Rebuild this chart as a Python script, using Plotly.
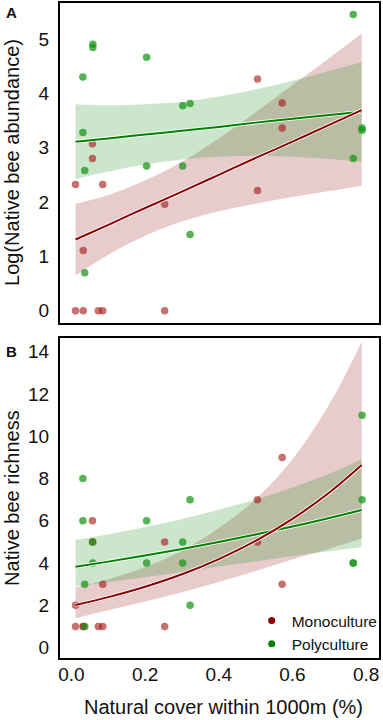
import plotly.graph_objects as go

# ---------------- data ----------------
# Panel A: log(native bee abundance) vs natural cover
mono_cover_a = [0.011, 0.011, 0.032, 0.032, 0.057, 0.057, 0.073, 0.085, 0.085,
                0.253, 0.253, 0.505, 0.505, 0.572, 0.572]
mono_abund = [2.32, 0.0, 1.11, 0.0, 3.07, 2.80, 0.0, 2.32, 0.0,
              1.96, 0.0, 4.26, 2.21, 3.82, 3.36]
poly_cover_a = [0.031, 0.031, 0.036, 0.036, 0.058, 0.058, 0.204, 0.204,
                0.302, 0.302, 0.322, 0.322, 0.765, 0.765, 0.789, 0.789]
poly_abund = [4.30, 3.28, 2.58, 0.70, 4.90, 4.84, 4.66, 2.66,
              3.77, 2.66, 3.81, 1.40, 5.45, 2.80, 3.36, 3.32]

# Panel B: native bee richness vs natural cover
mono_cover_b = [0.011, 0.011, 0.032, 0.032, 0.057, 0.057, 0.073, 0.085, 0.085,
                0.253, 0.253, 0.505, 0.505, 0.572, 0.572]
mono_rich = [2, 1, 1, 1, 6, 5, 1, 3, 1, 5, 1, 7, 5, 9, 3]
poly_cover_b = [0.031, 0.031, 0.036, 0.036, 0.058, 0.058, 0.204, 0.204,
                0.302, 0.302, 0.322, 0.322, 0.765, 0.765, 0.789, 0.789]
poly_rich = [8, 6, 3, 1, 5, 4, 6, 4, 5, 4, 7, 2, 4, 4, 11, 7]

# fitted lines and confidence bands (read at these cover values)
fit_cover = [0.011, 0.1, 0.2, 0.3, 0.4, 0.5, 0.6, 0.7, 0.788]
mono_abund_fit = [1.31, 1.58, 1.89, 2.19, 2.50, 2.81, 3.11, 3.42, 3.69]
mono_abund_lo = [0.65, 1.03, 1.38, 1.64, 1.83, 1.97, 2.09, 2.20, 2.30]
mono_abund_hi = [1.97, 2.13, 2.40, 2.74, 3.17, 3.65, 4.15, 4.65, 5.10]
poly_abund_fit = [3.11, 3.17, 3.24, 3.31, 3.38, 3.46, 3.53, 3.60, 3.66]
poly_abund_lo = [2.42, 2.56, 2.69, 2.78, 2.83, 2.85, 2.83, 2.79, 2.74]
poly_abund_hi = [3.80, 3.78, 3.80, 3.84, 3.94, 4.07, 4.23, 4.41, 4.57]
mono_rich_fit = [2.02, 2.39, 2.88, 3.47, 4.19, 5.05, 6.09, 7.34, 8.64]
mono_rich_lo = [1.39, 1.77, 2.18, 2.62, 3.10, 3.63, 4.17, 4.68, 5.16]
mono_rich_hi = [2.84, 3.23, 3.81, 4.59, 5.66, 7.02, 8.91, 11.51, 14.47]
poly_rich_fit = [3.83, 4.07, 4.36, 4.67, 5.00, 5.35, 5.73, 6.13, 6.51]
poly_rich_lo = [2.89, 3.09, 3.33, 3.58, 3.84, 4.08, 4.33, 4.56, 4.75]
poly_rich_hi = [5.09, 5.36, 5.71, 6.09, 6.52, 7.01, 7.58, 8.23, 8.93]

abund_ticks = [0, 1, 2, 3, 4, 5]
rich_ticks = [0, 2, 4, 6, 8, 10, 12, 14]
cover_ticks = [0.0, 0.2, 0.4, 0.6, 0.8]
cover_tick_labels = ["0.0", "0.2", "0.4", "0.6", "0.8"]

series_names = ["Monoculture", "Polyculture"]

# ---------------- styling ----------------
RED_LINE = "#8b0000"
GREEN_LINE = "#008000"
RED_FILL = "rgba(139,0,0,0.2)"
GREEN_FILL = "rgba(0,128,0,0.2)"
RED_PT = "rgba(165,25,25,0.62)"
GREEN_PT = "rgba(20,150,20,0.72)"
FONT = "Liberation Sans, Arial, sans-serif"

fig = go.Figure()


def add_band(x, lo, hi, fill, xa, ya):
    fig.add_trace(go.Scatter(x=x, y=lo, mode="lines", line=dict(width=0, shape="spline"),
                             showlegend=False, hoverinfo="skip", xaxis=xa, yaxis=ya))
    fig.add_trace(go.Scatter(x=x, y=hi, mode="lines", line=dict(width=0, shape="spline"),
                             fill="tonexty", fillcolor=fill, showlegend=False,
                             hoverinfo="skip", xaxis=xa, yaxis=ya))


def add_line(x, y, color, xa, ya):
    fig.add_trace(go.Scatter(x=x, y=y, mode="lines",
                             line=dict(color="white", width=3.6, shape="spline"),
                             showlegend=False, hoverinfo="skip", xaxis=xa, yaxis=ya))
    fig.add_trace(go.Scatter(x=x, y=y, mode="lines",
                             line=dict(color=color, width=2.0, shape="spline"),
                             showlegend=False, xaxis=xa, yaxis=ya))


def add_points(x, y, color, xa, ya):
    fig.add_trace(go.Scatter(x=x, y=y, mode="markers",
                             marker=dict(color=color, size=7.5, line=dict(width=0)),
                             showlegend=False, xaxis=xa, yaxis=ya))


# Panel A
add_band(fit_cover, mono_abund_lo, mono_abund_hi, RED_FILL, "x", "y")
add_band(fit_cover, poly_abund_lo, poly_abund_hi, GREEN_FILL, "x", "y")
add_points(mono_cover_a, mono_abund, RED_PT, "x", "y")
add_points(poly_cover_a, poly_abund, GREEN_PT, "x", "y")
add_line(fit_cover, poly_abund_fit, GREEN_LINE, "x", "y")
add_line(fit_cover, mono_abund_fit, RED_LINE, "x", "y")

# Panel B
add_band(fit_cover, mono_rich_lo, mono_rich_hi, RED_FILL, "x2", "y2")
add_band(fit_cover, poly_rich_lo, poly_rich_hi, GREEN_FILL, "x2", "y2")
add_points(mono_cover_b, mono_rich, RED_PT, "x2", "y2")
add_points(poly_cover_b, poly_rich, GREEN_PT, "x2", "y2")
add_line(fit_cover, poly_rich_fit, GREEN_LINE, "x2", "y2")
add_line(fit_cover, mono_rich_fit, RED_LINE, "x2", "y2")

# legend entries
for name, col in zip(series_names, [RED_LINE, GREEN_LINE]):
    fig.add_trace(go.Scatter(x=[None], y=[None], mode="markers", name=name,
                             marker=dict(color=col, size=7), xaxis="x2", yaxis="y2"))

W, H = 383, 720
x_dom = [60 / W, 381 / W]
axis_common = dict(showgrid=False, zeroline=False, showline=True, mirror=True,
                   linecolor="black", linewidth=1.6, ticks="",
                   tickfont=dict(family=FONT, size=19, color="#111"))

fig.update_layout(
    width=W, height=H, autosize=False,
    margin=dict(l=0, r=0, t=0, b=0),
    paper_bgcolor="white", plot_bgcolor="white",
    font=dict(family=FONT, color="#111"),
    xaxis=dict(domain=x_dom, range=[-0.032, 0.835], anchor="y", tickvals=cover_ticks,
               showticklabels=False, **axis_common),
    yaxis=dict(domain=[1 - 322.7 / H, 1 - 3 / H], range=[-0.22, 5.66], anchor="x",
               tickvals=abund_ticks, ticklabelstandoff=5, **axis_common),
    xaxis2=dict(domain=x_dom, range=[-0.032, 0.835], anchor="y2", tickvals=cover_ticks,
                ticktext=cover_tick_labels, ticklabelstandoff=-2, **axis_common),
    yaxis2=dict(domain=[1 - 658 / H, 1 - 338 / H], range=[-0.49, 14.65], anchor="x2",
                tickvals=rich_ticks, ticklabelstandoff=5, **axis_common),
    showlegend=True,
    legend=dict(x=253 / W, y=1 - 604 / H, xanchor="left", yanchor="top",
                traceorder="normal",
                bgcolor="rgba(0,0,0,0)", font=dict(family=FONT, size=15.5, color="#111"),
                itemwidth=30, tracegroupgap=0),
    annotations=[
        dict(text="Log(Native bee abundance)", x=12 / W, y=1 - 162 / H, xref="paper",
             yref="paper", textangle=-90, showarrow=False, xanchor="center",
             yanchor="middle", font=dict(family=FONT, size=20, color="#111")),
        dict(text="Native bee richness", x=12 / W, y=1 - 498 / H, xref="paper",
             yref="paper", textangle=-90, showarrow=False, xanchor="center",
             yanchor="middle", font=dict(family=FONT, size=20, color="#111")),
        dict(text="Natural cover within 1000m (%)", x=225 / W, y=1 - 707 / H,
             xref="paper", yref="paper", showarrow=False, xanchor="center",
             yanchor="middle", font=dict(family=FONT, size=20, color="#111")),
        dict(text="<b>A</b>", x=12 / W, y=1 - 12 / H, xref="paper", yref="paper",
             showarrow=False, xanchor="center", yanchor="middle",
             font=dict(family=FONT, size=15, color="#111")),
        dict(text="<b>B</b>", x=12 / W, y=1 - 351 / H, xref="paper", yref="paper",
             showarrow=False, xanchor="center", yanchor="middle",
             font=dict(family=FONT, size=15, color="#111")),
    ],
)

fig.write_html("out.html", include_plotlyjs=True, config={"displayModeBar": False},
               post_script="document.body.style.margin='0';document.body.style.overflow='hidden';")
